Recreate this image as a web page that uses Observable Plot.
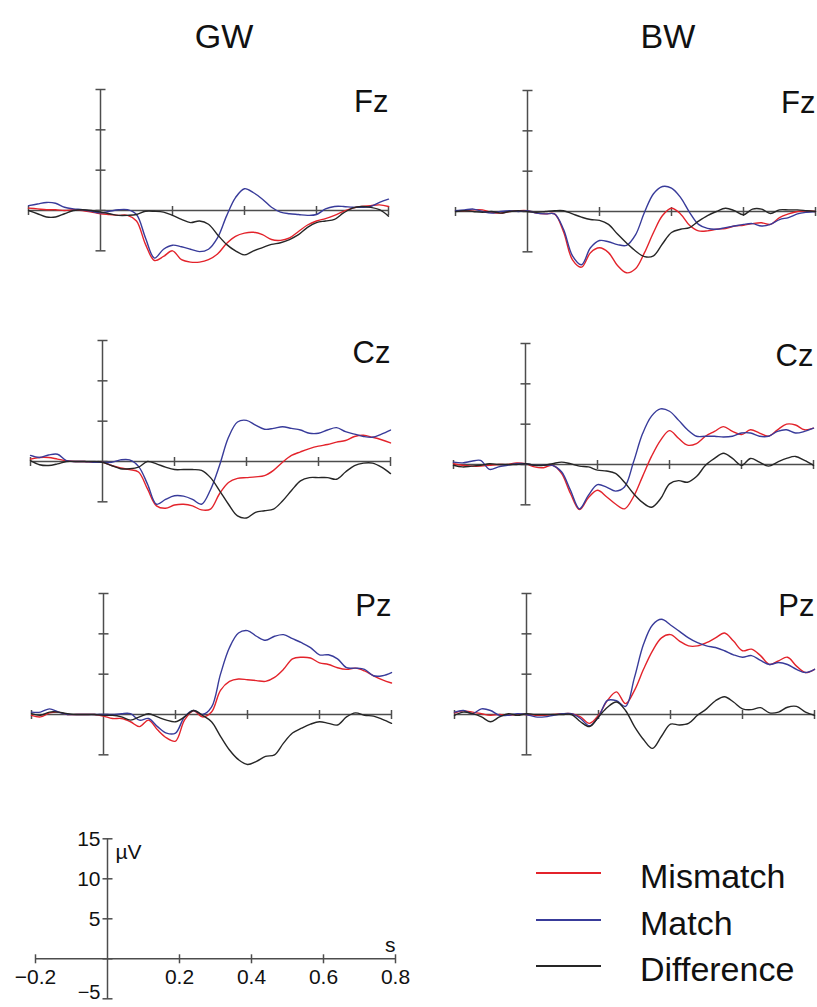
<!DOCTYPE html>
<html><head><meta charset="utf-8">
<script src="https://cdn.jsdelivr.net/npm/d3@7"></script>
<script src="https://cdn.jsdelivr.net/npm/@observablehq/plot@0.6"></script>
<style>
html,body{margin:0;padding:0;background:#fff;overflow:hidden}
#root{position:relative;width:817px;height:1007px;overflow:hidden;font-family:"Liberation Sans",Arial,sans-serif;color:#111}
.title{position:absolute;font-size:34px;line-height:1;white-space:nowrap;transform:translateX(-50%)}
.leg{position:absolute;font-size:34px;line-height:1;white-space:nowrap}
.legline{position:absolute;height:2px}
</style></head><body><div id="root"></div>
<script>
// ---- data ----
const times = [-0.2,-0.175,-0.15,-0.125,-0.1,-0.075,-0.05,-0.025,0,0.025,0.05,0.075,0.1,0.125,0.15,0.175,0.2,0.225,0.25,0.275,0.3,0.325,0.35,0.375,0.4,0.425,0.45,0.475,0.5,0.525,0.55,0.575,0.6,0.625,0.65,0.675,0.7,0.725,0.75,0.775,0.8];
const seriesNames = ["Mismatch","Match","Difference"];
const groups = ["GW","BW"];
const electrodes = ["Fz","Cz","Pz"];
const xTickVals = [-0.2,0.2,0.4,0.6,0.8];
const yTickVals = [15,10,5,0,-5];
const yLabelVals = [15,10,5];
const yLabelLow = [-5];
const xAxisLabel = "s";
const yAxisLabel = "µV";

const gwFzMismatch = [0.3,0.2,0.1,0.1,0.0,0.1,0.0,-0.2,-0.4,-0.5,-0.6,-0.6,-1.3,-4.2,-6.2,-5.7,-5.0,-6.1,-6.4,-6.4,-6.1,-5.4,-4.1,-3.2,-2.8,-2.7,-3.0,-3.6,-3.7,-3.4,-2.6,-1.8,-1.3,-1.0,-0.6,-0.1,0.3,0.5,0.6,0.7,0.5];
const gwFzMatch = [0.6,0.8,1.0,0.9,0.4,0.2,0.1,-0.1,-0.3,-0.1,0.1,0.1,-0.5,-3.4,-5.9,-4.8,-4.3,-4.5,-4.8,-5.1,-4.8,-3.4,-0.7,1.6,2.7,2.2,1.4,0.4,-0.2,-0.4,-0.5,-0.6,-0.5,0.2,0.5,0.5,0.4,0.4,0.5,1.0,1.4];
const gwFzDifference = [0.0,-0.4,-0.8,-0.8,-0.4,0.0,0.1,0.0,-0.2,-0.4,-0.6,-0.6,-0.5,-0.1,-0.1,-0.2,-0.6,-1.1,-1.5,-1.3,-1.7,-3.0,-4.2,-5.0,-5.5,-5.0,-4.6,-4.2,-4.0,-3.6,-3.0,-2.1,-1.5,-1.3,-1.1,-0.3,0.3,0.5,0.4,0.1,-0.7];

const bwFzMismatch = [0.1,0.1,0.2,0.2,-0.1,-0.2,0.0,0.1,0.1,-0.2,-0.3,-0.3,-2.5,-6.0,-6.9,-5.1,-4.5,-5.1,-6.7,-7.6,-7.1,-5.1,-2.6,-0.5,0.4,-0.3,-1.7,-2.4,-2.4,-2.2,-2.1,-1.8,-1.7,-1.5,-1.4,-1.6,-0.75,-0.3,0.0,0.1,0.0];
const bwFzMatch = [0.1,0.2,0.3,0.0,-0.2,0.0,0.1,0.0,0.1,-0.2,-0.3,-0.3,-2.2,-5.5,-6.6,-4.5,-3.6,-3.75,-4.1,-4.2,-2.9,-0.1,2.2,3.1,2.9,1.75,-0.1,-1.6,-2.1,-2.2,-2.0,-1.8,-1.6,-1.5,-1.8,-1.6,-1.0,-0.75,-0.3,-0.1,0.0];
const bwFzDifference = [0.0,0.1,0.0,-0.1,0.0,-0.2,0.0,0.1,0.0,-0.1,0.0,0.1,0.1,-0.3,-0.7,-1.0,-1.1,-1.6,-2.8,-3.9,-4.9,-5.6,-5.5,-4.0,-2.6,-2.2,-2.0,-1.2,-0.5,0.0,0.4,0.1,-0.4,0.3,0.3,-0.25,0.2,0.2,0.2,0.1,0.0];

const gwCzMismatch = [0.3,0.5,0.5,0.3,0.1,0.0,0.0,-0.1,-0.1,-0.5,-0.8,-1.0,-1.3,-3.4,-5.5,-5.8,-5.4,-5.3,-5.5,-6.0,-5.9,-4.0,-2.6,-2.1,-2.0,-1.9,-1.75,-1.1,-0.1,0.75,1.2,1.6,1.9,2.1,2.4,2.6,3.1,3.25,3.0,2.7,2.3];
const gwCzMatch = [0.75,0.5,0.8,0.9,0.1,0.0,0.0,-0.1,-0.1,-0.1,0.2,0.2,-0.6,-2.8,-5.3,-4.7,-4.25,-4.3,-4.7,-5.3,-3.5,-0.5,3.0,4.9,5.1,4.5,4.0,4.1,4.3,4.1,3.9,3.5,3.5,3.9,4.2,3.7,3.4,3.1,3.0,3.4,3.9];
const gwCzDifference = [0.1,-0.4,-0.5,-0.3,0.0,0.0,0.0,0.0,-0.1,-0.5,-0.9,-0.9,-0.7,0.0,-0.3,-0.7,-1.0,-1.0,-1.0,-1.1,-2.0,-3.6,-5.3,-6.75,-7.0,-6.3,-6.1,-5.9,-4.9,-3.6,-2.4,-2.0,-2.0,-2.0,-2.2,-1.3,-0.5,-0.2,-0.2,-0.7,-1.5];

const bwCzMismatch = [0.1,-0.1,-0.2,-0.2,-0.1,0.0,0.0,0.2,0.1,-0.3,-0.4,-0.1,-1.1,-3.6,-5.6,-4.1,-3.2,-4.0,-4.9,-5.5,-4.0,-1.5,1.0,3.0,4.2,3.25,2.4,2.6,3.5,4.1,4.7,4.1,3.7,4.3,3.9,3.5,4.3,5.0,4.9,4.3,4.5];
const bwCzMatch = [0.3,0.2,0.4,0.5,-0.6,-0.3,-0.1,0.1,0.1,-0.1,-0.1,-0.1,-0.9,-3.2,-5.5,-3.8,-2.5,-2.8,-3.3,-2.8,0.3,3.8,6.0,6.9,6.6,5.5,4.3,3.5,3.5,3.5,3.4,3.5,3.9,3.9,3.5,3.5,4.1,4.3,3.9,4.1,4.5];
const bwCzDifference = [-0.1,-0.3,-0.2,-0.1,0.1,0.0,0.0,0.0,0.1,-0.1,-0.1,0.1,0.3,0.1,-0.2,-0.3,-0.7,-0.8,-1.1,-2.2,-3.6,-4.7,-5.3,-4.25,-2.4,-2.0,-2.2,-1.5,-0.1,0.75,1.4,0.75,-0.1,0.75,0.3,-0.2,0.3,0.75,1.0,0.5,-0.1];

const gwPzMismatch = [-0.1,-0.3,0.2,0.3,0.0,0.0,0.0,0.0,-0.2,-0.5,-0.5,-0.9,-1.5,-0.7,-1.9,-2.9,-3.3,-0.7,0.45,-0.3,0.3,3.0,4.1,4.4,4.3,4.2,4.1,4.6,5.6,6.9,7.1,7.0,6.4,6.2,5.8,5.6,5.75,5.4,4.8,4.3,3.9];
const gwPzMatch = [0.3,0.3,0.7,0.3,0.0,0.0,0.0,0.0,0.0,0.0,0.1,0.1,-0.7,-0.5,-1.5,-2.3,-2.3,-0.3,0.5,0.0,0.9,5.0,8.3,10.1,10.4,9.7,9.2,9.7,9.9,9.4,8.9,8.3,7.4,7.4,6.9,5.8,5.75,5.6,4.8,4.8,5.2];
const gwPzDifference = [0.1,-0.1,0.3,0.3,0.1,0.0,0.0,0.0,-0.1,-0.1,-0.3,-0.7,-0.3,0.1,-0.3,-0.7,-0.9,-0.3,0.5,-0.1,-0.9,-2.7,-4.4,-5.6,-6.2,-5.8,-5.2,-5.0,-3.55,-2.3,-1.7,-1.2,-0.9,-1.1,-1.3,-0.3,0.2,-0.1,-0.2,-0.6,-1.1];

const bwPzMismatch = [0.2,0.45,0.3,0.1,-0.1,0.0,-0.1,0.0,0.0,-0.1,-0.1,0.0,0.1,0.1,-0.3,-1.1,-0.1,1.75,2.8,1.35,3.0,5.6,7.9,9.5,9.9,9.1,8.5,8.5,8.9,9.5,10.1,9.1,7.9,8.1,7.3,6.2,6.65,7.1,6.0,5.2,5.6];
const bwPzMatch = [0.3,0.5,0.1,0.7,0.5,-0.1,-0.1,0.1,0.0,-0.3,-0.3,-0.1,0.1,0.1,-0.5,-1.4,-0.3,1.75,1.7,1.0,4.6,8.7,11.1,11.8,11.1,10.3,9.5,8.9,8.5,8.3,7.9,7.4,7.1,7.3,6.7,6.2,6.45,6.2,5.6,5.2,5.6];
const bwPzDifference = [-0.1,0.3,0.1,-0.3,-0.9,-0.3,0.1,-0.1,0.1,0.0,0.0,0.0,0.0,0.0,-0.9,-1.5,-0.3,0.9,1.55,0.5,-1.5,-3.1,-4.2,-2.7,-1.2,-1.3,-1.1,-0.1,0.7,1.7,2.2,1.55,0.7,0.6,0.85,0.2,0.3,0.9,1.0,0.3,-0.1];

// ---- styles & layout ----
const seriesColors = ["#e3232b", "#383b9a", "#262626"];
const axisColor = "#4d4d4d";
const font = '"Liberation Sans", Arial, sans-serif';
const panelSeries = {
  GW: {Fz: [gwFzMismatch, gwFzMatch, gwFzDifference], Cz: [gwCzMismatch, gwCzMatch, gwCzDifference], Pz: [gwPzMismatch, gwPzMatch, gwPzDifference]},
  BW: {Fz: [bwFzMismatch, bwFzMatch, bwFzDifference], Cz: [bwCzMismatch, bwCzMatch, bwCzDifference], Pz: [bwPzMismatch, bwPzMatch, bwPzDifference]}
};
const panelPos = {
  GW: {Fz: [10, 69], Cz: [12, 320], Pz: [13, 573]},
  BW: {Fz: [437, 70], Cz: [435, 323], Pz: [436, 573]}
};

const hTick = {draw(ctx, size) { const r = Math.sqrt(size / Math.PI); ctx.moveTo(-r, 0); ctx.lineTo(r, 0); }};
const vTick = {draw(ctx, size) { const r = Math.sqrt(size / Math.PI); ctx.moveTo(0, -r); ctx.lineTo(0, r); }};
const xDom = [xTickVals[0], xTickVals[xTickVals.length - 1]];
const yDom = [yTickVals[yTickVals.length - 1], yTickVals[0]];
const minus = (v) => String(v).replace("-", "\u2212");

const root = document.getElementById("root");
function place(el, left, top) {
  el.style.position = "absolute"; el.style.left = left + "px"; el.style.top = top + "px";
  root.appendChild(el);
}

function axesMarks() {
  return [
    Plot.ruleY([0], {x1: xDom[0], x2: xDom[1], stroke: axisColor, strokeWidth: 1.5}),
    Plot.ruleX([0], {y1: yDom[0], y2: yDom[1], stroke: axisColor, strokeWidth: 1.5}),
    Plot.dot(xTickVals, {x: d => d, y: 0, symbol: vTick, r: 4.5, fill: "none", stroke: axisColor, strokeWidth: 1.5}),
    Plot.dot(yTickVals, {x: 0, y: d => d, symbol: hTick, r: 5, fill: "none", stroke: axisColor, strokeWidth: 1.5})
  ];
}

function panel(label, arrays) {
  const rows = [];
  seriesNames.forEach((s, k) => arrays[k].forEach((v, i) => rows.push({t: times[i], v, series: s})));
  return Plot.plot({
    width: 381, height: 215,
    marginLeft: 18, marginRight: 3, marginTop: 20, marginBottom: 33.67,
    x: {domain: xDom, axis: null},
    y: {domain: yDom, axis: null},
    color: {domain: seriesNames, range: seriesColors},
    style: {background: "transparent", overflow: "visible", fontFamily: font},
    marks: [
      ...axesMarks(),
      Plot.line(rows, {x: "t", y: "v", z: "series", stroke: "series", curve: "catmull-rom", strokeWidth: 1.4}),
      Plot.text([label], {text: d => d, frameAnchor: "top-right", dy: 22, lineAnchor: "bottom", textAnchor: "end", fontSize: 31, fill: "#111"})
    ]
  });
}

for (const g of groups) for (const e of electrodes) {
  const [l, t] = panelPos[g][e];
  place(panel(e, panelSeries[g][e]), l, t);
}

// column titles
const titleX = {GW: 224, BW: 668};
for (const g of groups) {
  const d = document.createElement("div");
  d.className = "title"; d.textContent = g;
  d.style.left = titleX[g] + "px"; d.style.top = "19px";
  root.appendChild(d);
}

// scale legend (axes)
const scale = Plot.plot({
  width: 420, height: 187,
  marginLeft: 35, marginRight: 25, marginTop: 18.3, marginBottom: 8.7,
  x: {domain: xDom, axis: null},
  y: {domain: yDom, axis: null},
  style: {background: "transparent", overflow: "visible", fontFamily: font},
  marks: [
    ...axesMarks(),
    Plot.text(yLabelVals, {x: 0, y: d => d, text: d => minus(d), textAnchor: "end", lineAnchor: "middle", dx: -7, fontSize: 21, fill: "#111"}),
    Plot.text(yLabelLow, {x: 0, y: d => d, text: d => minus(d), textAnchor: "end", lineAnchor: "bottom", dx: -7, dy: 0, fontSize: 20, fill: "#111"}),
    Plot.text(xTickVals, {x: d => d, y: 0, text: d => minus(d), textAnchor: "middle", lineAnchor: "top", dy: 10, fontSize: 21, fill: "#111"}),
    Plot.text([yAxisLabel], {x: 0, y: yDom[1], text: d => d, textAnchor: "start", lineAnchor: "top", dx: 8, dy: 5, fontSize: 21, fill: "#111"}),
    Plot.text([xAxisLabel], {x: xDom[1], y: 0, text: d => d, textAnchor: "end", lineAnchor: "bottom", dx: 0, dy: -7, fontSize: 21, fill: "#111"})
  ]
});
place(scale, 0, 820);

// colour legend
const legY = [873, 920, 966];
seriesNames.forEach((s, k) => {
  const ln = document.createElement("div");
  ln.className = "legline"; ln.style.background = seriesColors[k];
  ln.style.left = "536px"; ln.style.width = "65px"; ln.style.top = (legY[k] - 1) + "px";
  root.appendChild(ln);
  const tx = document.createElement("div");
  tx.className = "leg"; tx.textContent = s;
  tx.style.left = "640px"; tx.style.top = (legY[k] + 15 - 29) + "px";
  root.appendChild(tx);
});
</script></body></html>
